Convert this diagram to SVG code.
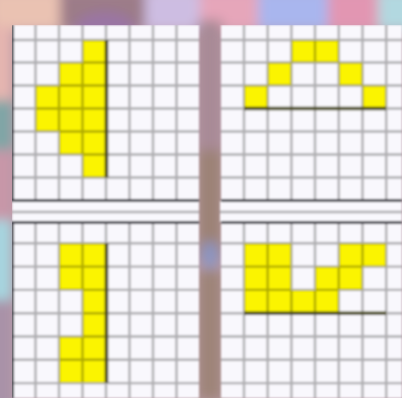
<svg xmlns="http://www.w3.org/2000/svg" width="402" height="398" viewBox="0 0 402 398">
  <defs>
    <filter id="soft" x="-20%" y="-20%" width="140%" height="140%">
      <feGaussianBlur stdDeviation="6"/>
    </filter>
    <filter id="photo" x="0" y="0" width="100%" height="100%">
      <feGaussianBlur stdDeviation="1"/>
    </filter>
    <style>
      .paper { fill: #f9f8fd; }
      .grid { fill: none; stroke: #000; stroke-opacity: 0.3; stroke-width: 2.4; }
      .cell { fill: #fbf400; }
      .border { fill: none; stroke: #3e3e46; stroke-width: 3; }
      .axis { fill: none; stroke: #4a4a14; stroke-width: 3.5; }
    </style>
  </defs>

  <g id="background">
    <rect x="0" y="0" width="402" height="398" fill="#b89aa6"/>
    <g filter="url(#soft)">
      <rect x="-10" y="-10" width="75" height="40" fill="#eac2b2"/>
      <rect x="60" y="-10" width="90" height="40" fill="#9c7c88"/>
      <ellipse cx="105" cy="28" rx="30" ry="16" fill="#9a74a4"/>
      <rect x="145" y="-10" width="60" height="40" fill="#cdbde2"/>
      <rect x="200" y="-10" width="60" height="40" fill="#e6a6ba"/>
      <rect x="258" y="-10" width="75" height="40" fill="#a9b6ee"/>
      <rect x="328" y="-10" width="52" height="40" fill="#e296b2"/>
      <rect x="378" y="-10" width="40" height="40" fill="#b2d8e0"/>
      <rect x="-10" y="25" width="22" height="80" fill="#e6b6b0"/>
      <rect x="-10" y="100" width="22" height="55" fill="#7ea6a6"/>
      <rect x="-10" y="150" width="22" height="70" fill="#c896a8"/>
      <rect x="-10" y="220" width="22" height="90" fill="#a6d6e0"/>
      <rect x="-10" y="300" width="22" height="110" fill="#a892a8"/>
      <rect x="198" y="20" width="24" height="140" fill="#a88a96"/>
      <rect x="198" y="150" width="24" height="110" fill="#9c8276"/>
      <ellipse cx="210" cy="255" rx="8" ry="14" fill="#8a96c6"/>
      <rect x="198" y="270" width="24" height="130" fill="#9e8478"/>
    </g>
  </g>

  <g filter="url(#photo)">
    <g id="strip">
      <rect class="paper" x="12" y="201" width="187" height="21"/>
      <rect class="paper" x="220" y="201" width="182" height="21"/>
      <path class="grid" d="M12 212 H199 M220 212 H402" stroke-opacity="0.12"/>
    </g>

    <g id="panel-top-left">
      <rect class="paper" x="12" y="25" width="187" height="176"/>
      <path class="cell" d="M82.5 40 H106 V177.5 H82.5 Z M59 62.5 H82.5 V154.5 H59 Z M35.5 85.5 H59 V131.5 H35.5 Z"/>
      <path class="grid" d="M35.5 25 V200 M59 25 V200 M82.5 25 V200 M106 25 V200 M129.5 25 V200 M153 25 V200 M176.5 25 V200 M12 40 H199 M12 62.5 H199 M12 85.5 H199 M12 108.5 H199 M12 131.5 H199 M12 154.5 H199 M12 177.5 H199"/>
      <path class="axis" d="M106.5 40 V177.5"/>
      <path class="border" d="M12.5 25 V200.5 H199"/>
    </g>

    <g id="panel-top-right">
      <rect class="paper" x="221" y="25" width="181" height="176"/>
      <path class="cell" d="M291.4 40 H338.8 V62.5 H291.4 Z M267.7 62.5 H291.4 V85.5 H267.7 Z M338.8 62.5 H362.5 V85.5 H338.8 Z M244 85.5 H267.7 V108.5 H244 Z M362.5 85.5 H386.2 V108.5 H362.5 Z"/>
      <path class="grid" d="M244 25 V200 M267.7 25 V200 M291.4 25 V200 M315 25 V200 M338.8 25 V200 M362.5 25 V200 M386.2 25 V200 M221 40 H402 M221 62.5 H402 M221 85.5 H402 M221 108.5 H402 M221 131.5 H402 M221 154.5 H402 M221 177.5 H402"/>
      <path class="axis" d="M244 108.5 H386.2"/>
      <path class="border" d="M221 200.5 H402"/>
    </g>

    <g id="panel-bottom-left">
      <rect class="paper" x="12" y="222" width="187" height="176"/>
      <path class="cell" d="M82.5 243.3 H106 V383.1 H82.5 Z M59 243.3 H82.5 V289.9 H59 Z M59 336.5 H82.5 V383.1 H59 Z"/>
      <path class="grid" d="M35.5 222 V398 M59 222 V398 M82.5 222 V398 M106 222 V398 M129.5 222 V398 M153 222 V398 M176.5 222 V398 M12 243.3 H199 M12 266.6 H199 M12 289.9 H199 M12 313.2 H199 M12 336.5 H199 M12 359.8 H199 M12 383.1 H199"/>
      <path class="axis" d="M106.5 243.3 V383.1"/>
      <path class="border" d="M12.5 398 V222.5 H199"/>
    </g>

    <g id="panel-bottom-right">
      <rect class="paper" x="221" y="222" width="181" height="176"/>
      <path class="cell" d="M244 243.3 H291.4 V289.9 H244 Z M338.8 243.3 H386.2 V266.6 H338.8 Z M315 266.6 H362.5 V289.9 H315 Z M244 289.9 H338.8 V313.2 H244 Z"/>
      <path class="grid" d="M244 222 V398 M267.7 222 V398 M291.4 222 V398 M315 222 V398 M338.8 222 V398 M362.5 222 V398 M386.2 222 V398 M221 243.3 H402 M221 266.6 H402 M221 289.9 H402 M221 313.2 H402 M221 336.5 H402 M221 359.8 H402 M221 383.1 H402"/>
      <path class="axis" d="M244 313.2 H386.2"/>
      <path class="border" d="M221 222.5 H402"/>
    </g>
  </g>
</svg>
